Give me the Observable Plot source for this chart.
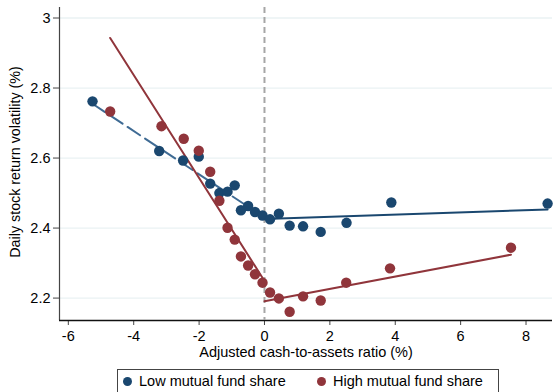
<!DOCTYPE html>
<html>
<head>
<meta charset="utf-8">
<script src="https://cdn.jsdelivr.net/npm/d3@7"></script>
<script src="https://cdn.jsdelivr.net/npm/@observablehq/plot@0.6"></script>
<style>
  html, body { margin: 0; padding: 0; background: #fff; }
  #wrap { position: relative; width: 554px; height: 392px; overflow: hidden; background: #fff;
          font-family: "Liberation Sans", Arial, Helvetica, sans-serif; }
  #legend { position: absolute; left: 117px; top: 369px; width: 382px; height: 40px;
            border: 1px solid #444; box-sizing: border-box; font-size: 14.5px; color: #000; }
  .item { position: absolute; top: 3px; display: flex; align-items: center; white-space: nowrap; }
  .sw { width: 9px; height: 9px; border-radius: 50%; display: inline-block; margin-right: 7px; }
</style>
</head>
<body>
<div id="wrap">
  <div id="chart"></div>
  <div id="legend"></div>
</div>
<script>
// Binned scatter: x = adjusted cash-to-assets ratio (%), y = daily stock return volatility (%)
const lowX = [-5.26, -3.22, -2.49, -2.01, -1.66, -1.38, -1.13, -0.91, -0.72, -0.50, -0.29, -0.06, 0.17, 0.44, 0.77, 1.18, 1.72, 2.51, 3.88, 8.66];
const lowY = [2.762, 2.620, 2.593, 2.604, 2.527, 2.500, 2.504, 2.522, 2.451, 2.463, 2.446, 2.436, 2.425, 2.441, 2.407, 2.405, 2.389, 2.415, 2.473, 2.470];
const highX = [-4.72, -3.15, -2.47, -2.01, -1.66, -1.38, -1.13, -0.91, -0.72, -0.50, -0.29, -0.06, 0.17, 0.44, 0.77, 1.18, 1.72, 2.50, 3.84, 7.54];
const highY = [2.733, 2.691, 2.655, 2.621, 2.561, 2.478, 2.401, 2.367, 2.319, 2.293, 2.268, 2.244, 2.216, 2.199, 2.161, 2.205, 2.193, 2.244, 2.285, 2.344];

// Fitted lines (endpoints), left and right of the zero threshold
const lowFitLeftX = [-5.26, 0];
const lowFitLeftY = [2.755, 2.430];
const lowFitRightX = [0, 8.66];
const lowFitRightY = [2.426, 2.453];
const highFitLeftX = [-4.72, 0];
const highFitLeftY = [2.943, 2.249];
const highFitRightX = [0, 7.54];
const highFitRightY = [2.191, 2.324];

const xTicks = [-6, -4, -2, 0, 2, 4, 6, 8];
const yTicks = [2.2, 2.4, 2.6, 2.8, 3];
const threshold = [0];
const xDomain = [-6.27, 8.81];
const yDomain = [2.136, 3.03];

const seriesNames = ["Low mutual fund share", "High mutual fund share"];
const colors = ["#1a476f", "#90353b"];

const pts = (xs, ys) => xs.map((x, i) => ({x, y: ys[i]}));
const low = pts(lowX, lowY), high = pts(highX, highY);

const font = '"Liberation Sans", Arial, Helvetica, sans-serif';

const chart = Plot.plot({
  width: 554,
  height: 366,
  marginLeft: 59,
  marginRight: 2,
  marginTop: 7,
  marginBottom: 46,
  x: {domain: xDomain},
  y: {domain: yDomain},
  style: {fontFamily: font, fontSize: "14.5px", color: "#000", background: "#fff", overflow: "visible"},
  marks: [
    Plot.gridY(yTicks, {stroke: "#eaf2f3", strokeOpacity: 1, strokeWidth: 1.3}),
    Plot.axisY(yTicks, {tickSize: 6, tickPadding: 3, stroke: "#444", tickFormat: d => String(+d.toFixed(1)), label: null, fontSize: 14.5}),
    Plot.axisX(xTicks, {tickSize: 5, tickPadding: 5, stroke: "#444", tickFormat: d => String(d), label: null, fontSize: 14.5}),
    Plot.ruleX([xDomain[0]], {stroke: "#444", strokeWidth: 1.2}),
    Plot.ruleY([yDomain[0]], {stroke: "#111", strokeWidth: 1.3}),
    Plot.ruleX(threshold, {stroke: "#a6a6a6", strokeWidth: 2, strokeDasharray: "6,4"}),
    Plot.line(pts(lowFitLeftX, lowFitLeftY), {x: "x", y: "y", stroke: "#3f6b94", strokeWidth: 2, strokeDasharray: "15,6"}),
    Plot.line(pts(lowFitRightX, lowFitRightY), {x: "x", y: "y", stroke: colors[0], strokeWidth: 2}),
    Plot.line(pts(highFitLeftX, highFitLeftY), {x: "x", y: "y", stroke: colors[1], strokeWidth: 2}),
    Plot.line(pts(highFitRightX, highFitRightY), {x: "x", y: "y", stroke: colors[1], strokeWidth: 2}),
    Plot.dot(low, {x: "x", y: "y", r: 5.2, fill: colors[0], stroke: "none"}),
    Plot.dot(high, {x: "x", y: "y", r: 5.2, fill: colors[1], stroke: "none"}),
    Plot.text(["Adjusted cash-to-assets ratio (%)"], {frameAnchor: "bottom", dy: 36, fontSize: 14.5, fill: "#000"}),
    Plot.text(["Daily stock return volatility (%)"], {frameAnchor: "left", textAnchor: "middle", dx: -44, dy: -2, rotate: -90, fontSize: 14.3, fill: "#000"})
  ]
});
document.getElementById("chart").appendChild(chart);

const legend = document.getElementById("legend");
const lefts = [5, 199];
seriesNames.forEach((name, i) => {
  const item = document.createElement("div");
  item.className = "item";
  item.style.left = lefts[i] + "px";
  const sw = document.createElement("span");
  sw.className = "sw";
  sw.style.background = colors[i];
  const t = document.createElement("span");
  t.textContent = name;
  item.appendChild(sw);
  item.appendChild(t);
  legend.appendChild(item);
});
</script>
</body>
</html>
